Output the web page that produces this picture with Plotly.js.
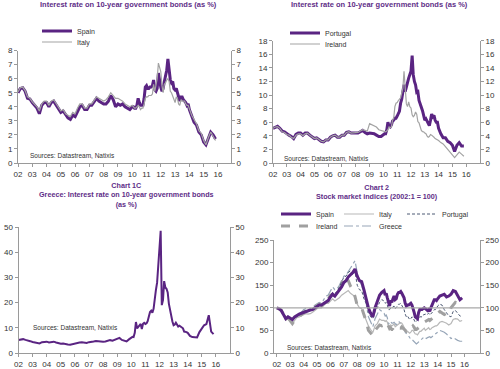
<!DOCTYPE html>
<html>
<head>
<meta charset="utf-8">
<script src="https://cdn.plot.ly/plotly-3.0.1.min.js"></script>
<style>html,body{margin:0;padding:0;background:#fff;}#chart{width:500px;height:369px;}</style>
</head>
<body>
<div id="chart"></div>
<script>
// ---------- DATA ----------
var dates = [
'2002-01','2002-03','2002-05','2002-07','2002-09','2002-11',
'2003-01','2003-03','2003-05','2003-07','2003-09','2003-11',
'2004-01','2004-03','2004-05','2004-07','2004-09','2004-11',
'2005-01','2005-03','2005-05','2005-07','2005-09','2005-11',
'2006-01','2006-03','2006-05','2006-07','2006-09','2006-11',
'2007-01','2007-03','2007-05','2007-07','2007-09','2007-11',
'2008-01','2008-03','2008-05','2008-07','2008-09','2008-11',
'2009-01','2009-03','2009-05','2009-07','2009-09','2009-11',
'2010-01','2010-02','2010-03','2010-04','2010-05','2010-06','2010-07','2010-08','2010-09','2010-10','2010-11','2010-12',
'2011-01','2011-02','2011-03','2011-04','2011-05','2011-06','2011-07','2011-08','2011-09','2011-10','2011-11','2011-12',
'2012-01','2012-02','2012-03','2012-04','2012-05','2012-06','2012-07','2012-08','2012-09','2012-10','2012-11','2012-12',
'2013-01','2013-02','2013-03','2013-04','2013-05','2013-06','2013-07','2013-08','2013-09','2013-10','2013-11','2013-12',
'2014-01','2014-03','2014-05','2014-07','2014-09','2014-11',
'2015-01','2015-03','2015-05','2015-07','2015-09','2015-11'
];

// 10-year government bond yields (%)
var spainYield = [
5.0,5.3,5.35,5.1,4.6,4.55, 4.3,4.1,3.9,3.5,4.1,4.3, 4.3,4.0,4.3,4.4,4.1,3.8, 3.6,3.7,3.4,3.2,3.1,3.4,
3.3,3.7,4.0,4.1,3.8,3.8, 4.1,4.1,4.4,4.6,4.4,4.3, 4.2,4.2,4.4,4.8,4.5,4.0, 4.2,4.1,4.2,4.0,3.9,3.8,
4.0,4.0,3.9,3.9,4.1,4.6,4.3,4.1,4.1,4.1,4.6,5.4,
5.5,5.3,5.3,5.4,5.4,5.5,5.9,5.2,5.1,5.3,6.4,5.7,
5.4,5.1,5.3,5.8,6.2,6.6,7.4,6.6,5.9,5.7,5.8,5.3,
5.2,5.3,5.0,4.6,4.4,4.7,4.7,4.5,4.4,4.3,4.1,4.2,
3.8,3.3,2.9,2.7,2.2,2.0, 1.5,1.3,1.8,2.2,2.0,1.7];
var italyYield = [
5.05,5.35,5.4,5.15,4.7,4.6, 4.35,4.2,4.0,3.7,4.2,4.4, 4.4,4.1,4.4,4.5,4.2,3.9, 3.7,3.8,3.5,3.4,3.3,3.6,
3.5,3.9,4.2,4.2,3.9,3.9, 4.2,4.2,4.5,4.7,4.6,4.5, 4.4,4.5,4.7,5.0,4.8,4.6, 4.6,4.5,4.4,4.2,4.1,4.0,
4.1,4.0,3.9,3.9,4.0,4.1,4.0,3.8,3.9,3.9,4.2,4.6,
4.7,4.7,4.8,4.8,4.8,4.9,5.6,5.1,5.5,6.0,7.1,6.8,
6.5,5.5,5.0,5.6,5.7,5.9,6.0,5.8,5.1,5.0,4.8,4.5,
4.3,4.7,4.6,4.2,4.1,4.5,4.4,4.4,4.4,4.2,4.1,4.1,
3.8,3.4,3.1,2.8,2.3,2.1, 1.6,1.3,1.8,2.2,1.9,1.6];
var portugalYield = [
5.1,5.3,5.4,5.1,4.7,4.6, 4.3,4.1,3.9,3.6,4.2,4.4, 4.4,4.1,4.4,4.4,4.1,3.8, 3.6,3.7,3.4,3.2,3.1,3.4,
3.4,3.8,4.0,4.1,3.8,3.8, 4.1,4.1,4.5,4.6,4.4,4.4, 4.3,4.4,4.6,4.8,4.5,4.3, 4.4,4.4,4.3,4.1,3.9,3.9,
4.2,4.3,4.3,4.9,6.0,5.4,5.3,5.6,6.2,6.3,6.6,6.6,
6.9,7.3,7.6,8.8,9.4,10.5,11.5,10.5,11.3,11.8,12.5,13.0,
13.5,15.8,13.0,12.0,11.5,10.4,10.5,9.2,8.5,8.2,7.7,7.0,
6.3,6.5,6.1,5.8,5.5,6.3,7.2,6.8,7.0,6.3,6.0,6.0,
5.1,4.3,3.7,3.7,3.2,3.0, 2.6,1.7,2.6,3.0,2.5,2.5];
var irelandYield = [
5.1,5.3,5.35,5.1,4.6,4.5, 4.2,4.1,3.8,3.6,4.1,4.3, 4.3,4.0,4.3,4.4,4.1,3.8, 3.6,3.7,3.4,3.2,3.1,3.4,
3.4,3.8,4.0,4.1,3.8,3.8, 4.1,4.1,4.5,4.6,4.4,4.4, 4.4,4.5,4.7,4.9,4.8,4.7, 5.8,5.6,5.5,5.3,4.9,4.8,
4.8,4.7,4.6,4.7,4.9,5.3,5.2,5.3,6.3,6.6,8.3,8.8,
8.9,9.2,9.5,9.6,10.3,11.0,13.5,10.0,8.7,8.3,9.0,8.3,
8.1,7.1,6.8,7.0,7.5,7.2,6.1,5.9,5.2,4.8,4.6,4.6,
4.4,4.3,4.0,3.8,3.9,4.2,4.1,4.0,3.8,3.6,3.5,3.5,
3.3,3.0,2.8,2.4,2.0,1.7, 1.2,0.8,1.2,1.6,1.3,1.0];
var greeceYield = [
5.2,5.4,5.5,5.2,4.8,4.7, 4.4,4.2,4.0,3.8,4.3,4.5, 4.5,4.2,4.5,4.5,4.2,3.9, 3.7,3.8,3.5,3.4,3.3,3.6,
3.6,4.0,4.2,4.3,4.0,4.0, 4.3,4.3,4.6,4.8,4.6,4.5, 4.5,4.6,4.8,5.1,4.9,5.3, 5.6,6.0,5.2,4.8,4.6,5.4,
6.2,6.4,6.3,8.0,12.3,9.8,10.4,10.8,11.5,9.5,11.6,12.0,
11.5,11.8,12.6,14.5,16.3,16.8,16.0,17.5,22.0,25.0,28.0,34.0,
39.0,48.5,19.0,21.0,28.5,26.0,25.5,24.0,19.5,17.0,15.5,12.5,
11.0,11.3,12.0,11.0,10.5,10.8,10.5,10.3,9.8,8.5,8.5,8.3,
8.0,6.8,6.3,6.3,6.2,8.3, 9.5,11.0,11.5,15.0,8.5,7.5];

// Stock market indices (2002:1 = 100)
var spainStock = [
100,98,94,85,76,80, 77,74,80,84,86,88, 90,92,93,95,96,100, 104,106,106,110,114,116,
124,130,126,132,140,146, 156,160,168,172,178,186, 170,160,158,140,120,100, 88,80,100,115,128,134,
138,128,132,122,110,104,116,112,120,126,118,120,
130,134,134,136,132,128,122,110,104,106,106,108,
110,106,100,90,80,78,76,90,96,96,96,98,
100,98,96,94,96,92,100,106,114,118,118,116,
120,126,128,130,124,126, 130,138,136,128,118,122];
var italyStock = [
100,98,92,85,72,75, 70,65,72,78,80,82, 85,87,86,87,90,95, 98,100,100,105,110,110,
115,120,115,118,122,128, 132,135,138,132,128,125, 108,100,98,85,75,60, 52,45,60,65,75,72,
72,70,72,68,60,58,62,60,62,64,58,60,
64,66,66,67,66,62,56,48,46,48,45,44,
46,50,50,46,42,42,40,44,48,48,50,52,
55,50,52,54,56,52,53,56,58,60,60,60,
62,68,70,68,66,62, 65,74,76,75,70,72];
var portugalStock = [
100,98,96,88,80,82, 78,74,78,82,84,86, 92,94,94,96,98,102, 106,108,106,110,116,118,
128,134,132,136,146,156, 168,170,178,182,172,180, 150,140,138,120,110,90, 80,76,92,100,112,118,
115,110,112,106,96,96,100,100,102,104,98,100,
104,108,108,110,106,102,96,86,80,82,76,74,
76,80,78,72,68,70,72,76,80,80,80,84,
86,86,84,86,88,84,86,88,92,96,96,98,
104,108,106,96,88,82, 80,92,94,88,82,80];
var irelandStock = [
100,97,95,85,75,78, 72,65,72,78,80,85, 90,92,92,95,98,102, 105,108,105,112,118,120,
128,130,125,130,140,150, 170,165,160,148,140,125, 105,100,100,85,70,50, 45,38,50,55,62,60,
62,60,66,65,58,54,56,52,52,50,47,50,
52,54,56,55,58,55,52,50,48,50,52,50,
53,58,60,57,52,52,54,58,60,60,62,63,
68,70,70,72,74,72,74,76,78,80,82,82,
88,92,88,85,88,86, 100,105,112,110,108,115];
var greeceStock = [
100,98,95,85,75,78, 72,66,76,82,86,90, 96,98,96,98,100,106, 110,112,110,118,126,128,
138,146,140,142,150,160, 170,172,180,188,194,204, 178,160,150,128,110,80, 70,58,76,88,96,92,
88,82,84,78,64,66,70,66,66,68,64,62,
66,70,68,66,60,56,54,46,42,40,38,34,
30,30,28,26,22,20,22,24,26,28,30,32,
36,34,32,34,36,36,34,36,38,42,44,44,
46,50,48,46,42,38, 32,34,30,28,26,26];

var stockBase = 100;

var yearTicks = ['02','03','04','05','06','07','08','09','10','11','12','13','14','15','16'];

// ---------- STYLE ----------
var PURPLE = '#5a2482';
var TITLE = '#5e2d87';
var GRAY = '#a3a3a3';
var AX = '#9a9a9a';
var W = 500, H = 369;
function px(x){return x/W;}
function py(y){return 1 - y/H;}

var traces = [
  {x:dates, y:spainYield, xaxis:'x', yaxis:'y', name:'Spain', mode:'lines', line:{color:PURPLE, width:3}, legend:'legend'},
  {x:dates, y:italyYield, xaxis:'x', yaxis:'y', name:'Italy', mode:'lines', line:{color:GRAY, width:1.2}, legend:'legend2'},
  {x:dates, y:portugalYield, xaxis:'x2', yaxis:'y2', name:'Portugal', mode:'lines', line:{color:PURPLE, width:3}, legend:'legend3'},
  {x:dates, y:irelandYield, xaxis:'x2', yaxis:'y2', name:'Ireland', mode:'lines', line:{color:GRAY, width:1.2}, legend:'legend4'},
  {x:dates, y:greeceYield, xaxis:'x3', yaxis:'y3', name:'Greece', mode:'lines', line:{color:PURPLE, width:2}, showlegend:false},
  {x:dates, y:greeceStock, xaxis:'x4', yaxis:'y4', name:'Greece', mode:'lines', line:{color:'#97a6b8', width:1.2, dash:'dashdot'}, legend:'legend9'},
  {x:dates, y:italyStock, xaxis:'x4', yaxis:'y4', name:'Italy', mode:'lines', line:{color:'#b8b8b8', width:1.2}, legend:'legend6'},
  {x:dates, y:irelandStock, xaxis:'x4', yaxis:'y4', name:'Ireland', mode:'lines', line:{color:'#a0a0a0', width:3, dash:'dash'}, legend:'legend8'},
  {x:dates, y:portugalStock, xaxis:'x4', yaxis:'y4', name:'Portugal', mode:'lines', line:{color:'#4d5a74', width:1, dash:'3px,2px'}, legend:'legend7'},
  {x:dates, y:spainStock, xaxis:'x4', yaxis:'y4', name:'Spain', mode:'lines', line:{color:PURPLE, width:3}, legend:'legend5'}
];
// invisible copies so that the mirrored right-hand axes are drawn
[['x','y5',spainYield],['x2','y6',portugalYield],['x3','y7',greeceYield],['x4','y8',spainStock]].forEach(function(p){
  traces.push({x:dates, y:p[2], xaxis:p[0], yaxis:p[1], mode:'lines', opacity:0, line:{width:0}, showlegend:false, hoverinfo:'skip'});
});

var tickVals = yearTicks.map(function(t){return '20'+t+'-01-01';});
var TF = {size:8, color:'#333'};
function xax(d0,d1,r0,r1,anchor){
  return {domain:[px(d0),px(d1)], anchor:anchor, type:'date', range:[r0,r1],
    tickmode:'array', tickvals:tickVals, ticktext:yearTicks,
    ticks:'outside', ticklen:3, tickcolor:AX, showline:true, linecolor:AX, linewidth:1,
    showgrid:false, zeroline:false, tickfont:TF};
}
function yax(y0,y1,maxV,dt,anchor,extra){
  var o = {domain:[py(y1),py(y0)], anchor:anchor, range:[0,maxV], dtick:dt, tick0:0, autorange:false,
    ticks:'outside', ticklen:3, tickcolor:AX, showline:true, linecolor:AX, linewidth:1,
    showgrid:false, zeroline:false, tickfont:TF};
  for (var k in extra) o[k]=extra[k];
  return o;
}
function leg(x,y){
  return {x:px(x), y:py(y), xanchor:'left', yanchor:'middle', bgcolor:'rgba(0,0,0,0)',
    font:{size:7, color:'#333'}, itemwidth:30, tracegroupgap:0, orientation:'v'};
}

var layout = {
  width:W, height:H, margin:{l:0,r:0,t:0,b:0},
  paper_bgcolor:'#fff', plot_bgcolor:'#fff',
  font:{family:'Liberation Sans, Arial, sans-serif', size:8, color:'#333'},
  xaxis: xax(18,231,'2002-01-01','2016-12-01','y'),
  yaxis: yax(50.5,163,8,1,'x',{}),
  yaxis5: yax(50.5,163,8,1,'x',{overlaying:'y', side:'right'}),
  xaxis2: xax(273,480,'2002-01-01','2017-01-01','y2'),
  yaxis2: yax(40.7,163,18,2,'x2',{}),
  yaxis6: yax(40.7,163,18,2,'x2',{overlaying:'y2', side:'right'}),
  xaxis3: xax(18.5,230,'2002-01-01','2017-01-01','y3'),
  yaxis3: yax(227,353,50,10,'x3',{}),
  yaxis7: yax(227,353,50,10,'x3',{overlaying:'y3', side:'right'}),
  xaxis4: xax(274,480,'2001-10-15','2017-03-01','y4'),
  yaxis4: yax(240,353,250,50,'x4',{}),
  yaxis8: yax(240,353,250,50,'x4',{overlaying:'y4', side:'right'}),
  legend: leg(37,31),
  legend2: leg(37,42),
  legend3: leg(285,33),
  legend4: leg(285,44),
  legend5: leg(276,214),
  legend6: leg(339,214),
  legend7: leg(402,214),
  legend8: leg(276,226),
  legend9: leg(339,226),
  shapes:[
    {type:'line', xref:'x4 domain', yref:'y4', x0:0, x1:1, y0:stockBase, y1:stockBase, line:{color:'#a8a8a8', width:1.2}, layer:'above'}
  ],
  annotations:[
    {text:'<b>Interest rate on 10-year government bonds (as %)</b>', x:px(128), y:py(5), font:{size:7.5,color:TITLE}},
    {text:'<b>Interest rate on 10-year government bonds (as %)</b>', x:px(379.5), y:py(5), font:{size:7.5,color:TITLE}},
    {text:'<b>Chart 1C</b><br><b>Greece: Interest rate on 10-year government bonds</b><br><b>(as %)</b>', x:px(126), y:py(194.7), font:{size:7.2,color:TITLE}},
    {text:'<b>Chart 2</b><br><b>Stock market indices (2002:1 = 100)</b>', x:px(377), y:py(191.5), font:{size:7.2,color:TITLE}},
    {text:'Sources: Datastream, Natixis', x:px(28), y:py(155.6), xanchor:'left', font:{size:6.5,color:'#333'}},
    {text:'Sources: Datastream, Natixis', x:px(282), y:py(158), xanchor:'left', font:{size:6.5,color:'#333'}},
    {text:'Sources: Datastream, Natixis', x:px(31), y:py(327), xanchor:'left', font:{size:6.5,color:'#333'}},
    {text:'Sources: Datastream, Natixis', x:px(285), y:py(347.7), xanchor:'left', font:{size:6.5,color:'#333'}}
  ].map(function(a){a.xref='paper'; a.yref='paper'; a.showarrow=false; if(!a.xanchor) a.xanchor='center'; a.yanchor='middle'; return a;}),
  showlegend:true
};

Plotly.newPlot('chart', traces, layout, {displayModeBar:false, staticPlot:true});
</script>
</body>
</html>
